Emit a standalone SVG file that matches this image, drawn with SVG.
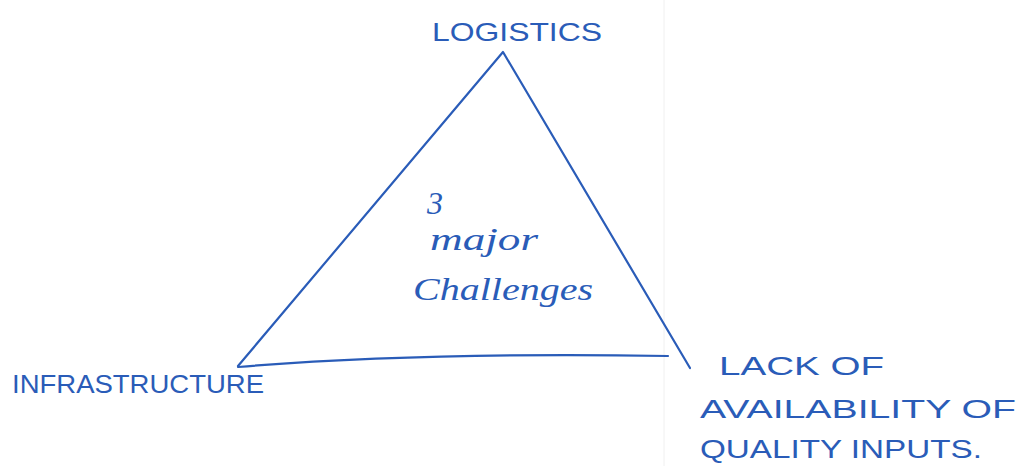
<svg xmlns="http://www.w3.org/2000/svg" width="1023" height="466" viewBox="0 0 1023 466">
<style>
.ink{fill:none;stroke:#2a5cb8;stroke-width:2.2;stroke-linecap:round;stroke-linejoin:round}
.cap{font-family:"Liberation Sans",Arial,sans-serif;fill:#2a5cb8;font-size:26px}
.hand{font-family:"Liberation Serif","DejaVu Serif",serif;font-style:italic;fill:#2a5cb8;font-size:32px}
</style>
<rect width="1023" height="466" fill="#ffffff"/>
<line x1="664" y1="0" x2="664" y2="466" stroke="#f0f0f0" stroke-width="1"/>
<g id="connectors">
<path class="ink" d="M238,366 L503,52 L690,368"/>
<path class="ink" d="M238,367 Q420,352 668,356"/>
</g>
<g id="logistics"><text class="cap" x="432" y="41" textLength="170" lengthAdjust="spacingAndGlyphs">LOGISTICS</text></g>
<g id="center">
<text class="hand" x="427" y="214" font-size="34">3</text>
<text class="hand" x="430" y="250" textLength="108" lengthAdjust="spacingAndGlyphs">major</text>
<text class="hand" x="413" y="300" textLength="180" lengthAdjust="spacingAndGlyphs">Challenges</text>
</g>
<g id="infrastructure"><text class="cap" x="12" y="393" textLength="252" lengthAdjust="spacingAndGlyphs">INFRASTRUCTURE</text></g>
<g id="inputs">
<text class="cap" x="719" y="375" textLength="165" lengthAdjust="spacingAndGlyphs">LACK  OF</text>
<text class="cap" x="700" y="418" textLength="316" lengthAdjust="spacingAndGlyphs">AVAILABILITY  OF</text>
<text class="cap" x="700" y="458" font-size="24" textLength="282" lengthAdjust="spacingAndGlyphs">QUALITY  INPUTS.</text>
</g>
</svg>
